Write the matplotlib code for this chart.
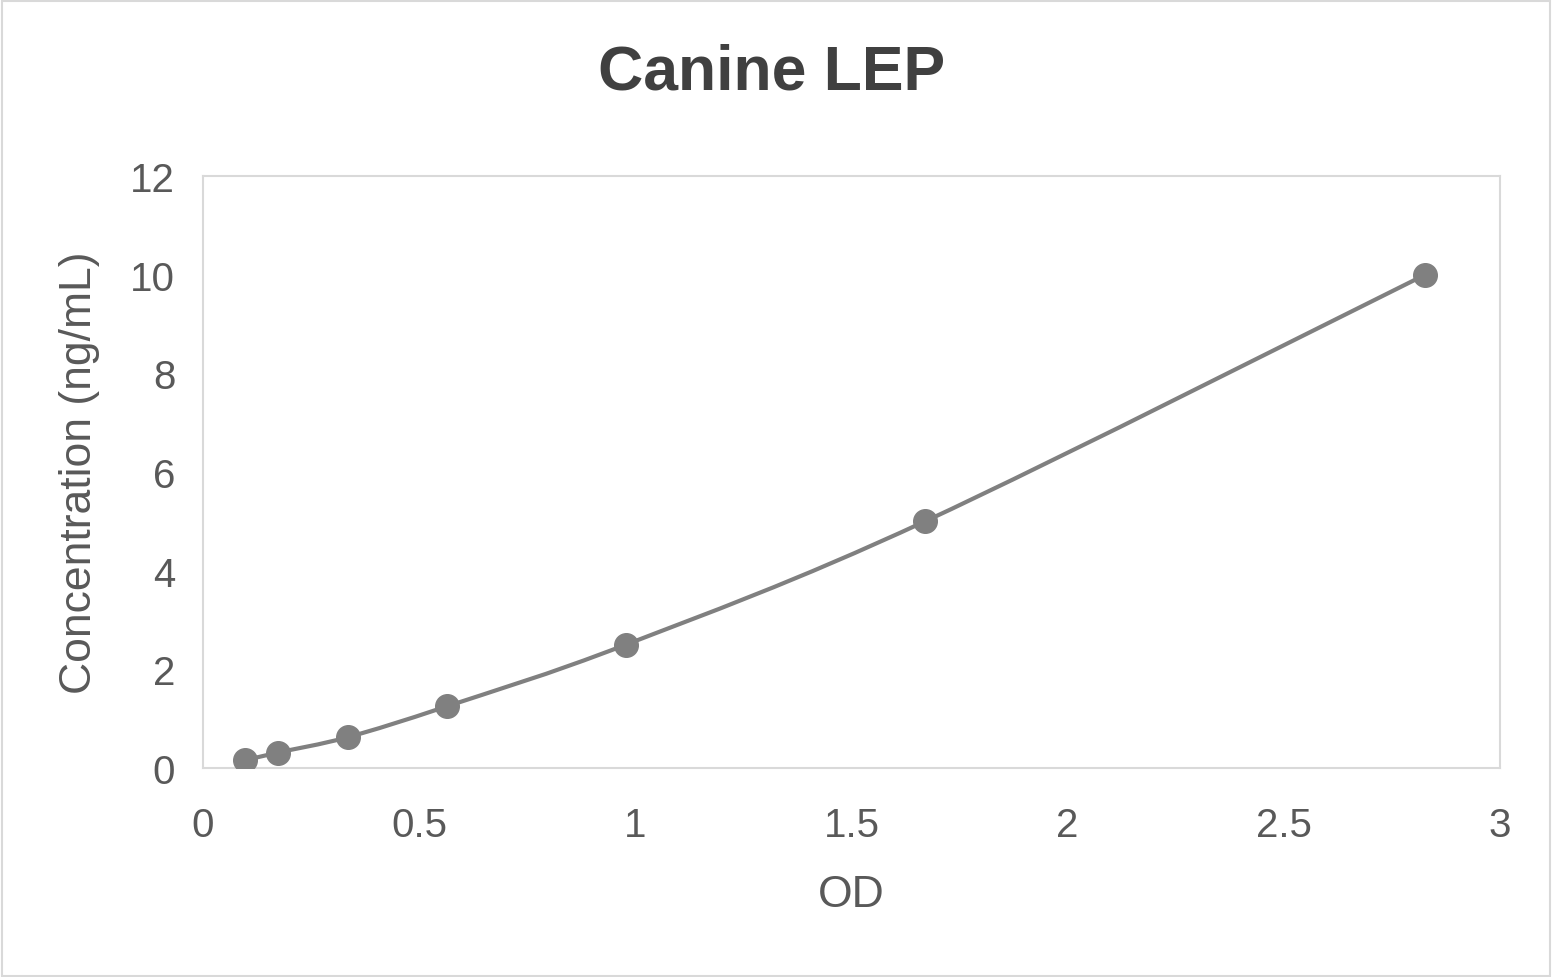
import matplotlib
matplotlib.use("Agg")
import matplotlib.pyplot as plt
import numpy as np
from matplotlib.path import Path
from matplotlib.patches import PathPatch, Rectangle

od = [0.097, 0.173, 0.335, 0.564, 0.978, 1.670, 2.827]
conc = [0.156, 0.3125, 0.625, 1.25, 2.5, 5.0, 10.0]
xticks = [0, 0.5, 1, 1.5, 2, 2.5, 3]
yticks = [0, 2, 4, 6, 8, 10, 12]

plt.rcParams['font.family'] = ['Liberation Sans', 'DejaVu Sans']
fig = plt.figure(figsize=(15.53, 9.78), dpi=100)
fig.patches.append(Rectangle((0.001, 0.001), 0.997, 0.997, transform=fig.transFigure,
                             fill=False, edgecolor='#d9d9d9', linewidth=1.5))
ax = fig.add_axes([0.1307, 0.2137, 0.8352, 0.6053])

P = np.column_stack([od, conc])
verts = [tuple(P[0])]
codes = [Path.MOVETO]
n = len(P)
for i in range(n - 1):
    p0 = P[i - 1] if i > 0 else P[i]
    p1, p2 = P[i], P[i + 1]
    p3 = P[i + 2] if i + 2 < n else P[i + 1]
    c1 = p1 + (p2 - p0) / 6
    c2 = p2 - (p3 - p1) / 6
    verts += [tuple(c1), tuple(c2), tuple(p2)]
    codes += [Path.CURVE4] * 3
ax.add_patch(PathPatch(Path(verts, codes), fill=False, edgecolor='#808080', linewidth=3))
ax.plot(od, conc, 'o', color='#808080', markersize=17, zorder=3)

ax.set_xlim(0, 3)
ax.set_ylim(0, 12)
ax.set_xticks(xticks)
ax.set_xticklabels([f"{t:g}" for t in xticks])
ax.set_yticks(yticks)
for s in ax.spines.values():
    s.set_color('#d9d9d9')
    s.set_linewidth(1.5)
ax.tick_params(length=0, labelsize=29, labelcolor='#595959')
ax.tick_params(axis='x', pad=27)
ax.tick_params(axis='y', pad=20)
ax.set_xlabel('OD', fontsize=32, color='#595959', labelpad=22)
ax.set_ylabel('Concentration (ng/mL)', fontsize=32, color='#595959', labelpad=22)
fig.text(0.497, 0.925, 'Canine LEP', ha='center', va='center', fontsize=45,
         fontweight='bold', color='#404040')
fig.savefig('out.png', dpi=100)
